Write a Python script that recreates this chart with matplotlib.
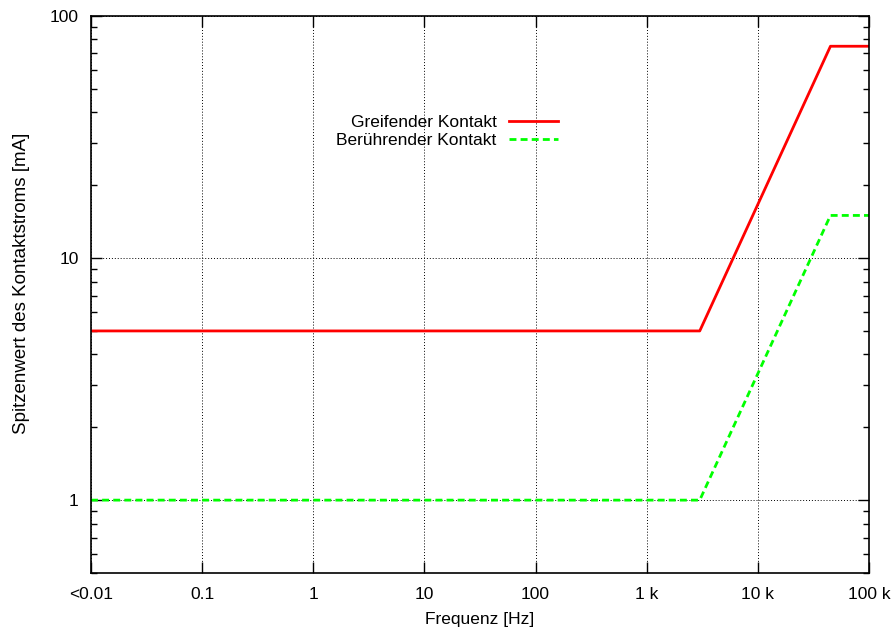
import matplotlib
matplotlib.use('Agg')
import matplotlib.pyplot as plt
from matplotlib.ticker import FixedLocator, LogLocator, NullFormatter, NullLocator

plt.rcParams['font.family'] = ['Liberation Sans', 'DejaVu Sans']

# data
freq = [0.01, 3000, 45000, 100000]
greifend = [5, 5, 75, 75]
beruehrend = [1, 1, 15, 15]

xticks = [0.01, 0.1, 1, 10, 100, 1e3, 1e4, 1e5]
xticklabels = ['<0.01', '0.1', '1', '10', '100', '1 k', '10 k', '100 k']
yticks = [1, 10, 100]
yticklabels = ['1', '10', '100']

fig = plt.figure(figsize=(8.96, 6.33), dpi=100)
ax = fig.add_axes([91 / 896, 1 - 573 / 633, (869 - 91) / 896, (573 - 16) / 633])

ax.plot(freq, greifend, color='#ff0000', lw=2, label='Greifender Kontakt')
ax.plot(freq, beruehrend, color='#00ff00', lw=2, dashes=(2.5, 1.5),
        label='Berührender Kontakt')

ax.set_xscale('log')
ax.set_yscale('log')
ax.set_xlim(0.01, 1e5)
ax.set_ylim(0.5, 100)

ax.xaxis.set_major_locator(FixedLocator(xticks))
ax.set_xticklabels(xticklabels)
ax.xaxis.set_minor_locator(NullLocator())
ax.yaxis.set_major_locator(FixedLocator(yticks))
ax.set_yticklabels(yticklabels)
ax.yaxis.set_minor_locator(LogLocator(base=10, subs=range(2, 10)))
ax.yaxis.set_minor_formatter(NullFormatter())

ax.tick_params(which='both', direction='in', top=True, right=True,
               labelsize=12.5, width=1)
ax.tick_params(axis='x', pad=10)
ax.tick_params(axis='y', pad=9)
ax.tick_params(which='major', length=8)
ax.tick_params(which='minor', length=4)

for s in ax.spines.values():
    s.set_linewidth(1.2)

ax.grid(True, which='major', color='black', ls=(0, (1, 2)), lw=0.7)

ax.set_xlabel('Frequenz [Hz]', fontsize=12.5, labelpad=7)
ax.set_ylabel('Spitzenwert des Kontaktstroms [mA]', fontsize=13.5)
ax.yaxis.set_label_coords(-61 / 778, 0.52)

ax.legend(loc='upper right', bbox_to_anchor=(567 / 896, 1 - 106 / 633),
          bbox_transform=fig.transFigure, frameon=False, markerfirst=False,
          fontsize=12.5, handlelength=2.85, handletextpad=0.7, labelspacing=0.2,
          borderpad=0)

fig.savefig('out.png', dpi=100)
